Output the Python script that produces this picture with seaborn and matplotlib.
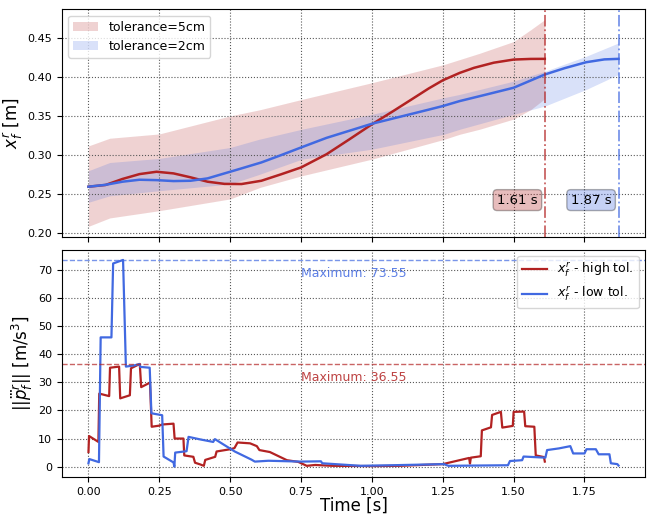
import numpy as np
import pandas as pd
import matplotlib
matplotlib.use("Agg")
import matplotlib.pyplot as plt
import seaborn as sns

# ---- position of the foot along x (top panel) ----
t_high = [0.0, 0.06, 0.12, 0.18, 0.24, 0.30, 0.36, 0.42, 0.48, 0.54, 0.61, 0.68,
          0.75, 0.84, 0.92, 1.0, 1.07, 1.14, 1.20, 1.25, 1.31, 1.36, 1.43, 1.50, 1.56, 1.61]
x_high = [0.2596, 0.2618, 0.2695, 0.2757, 0.2787, 0.2766, 0.2716, 0.2660, 0.2632, 0.2630,
          0.2672, 0.2755, 0.2842, 0.3011, 0.3200, 0.3393, 0.3550, 0.3711, 0.3850, 0.3955,
          0.4050, 0.4114, 0.4180, 0.4220, 0.4228, 0.4229]

t_low = [0.0, 0.06, 0.12, 0.18, 0.24, 0.30, 0.36, 0.42, 0.48, 0.54, 0.61, 0.68, 0.75,
         0.84, 0.92, 1.0, 1.10, 1.20, 1.25, 1.31, 1.40, 1.50, 1.61, 1.68, 1.756, 1.82, 1.87]
x_low = [0.2596, 0.2620, 0.2660, 0.2685, 0.2680, 0.2668, 0.2672, 0.2702, 0.2766, 0.2830,
         0.2906, 0.3000, 0.3097, 0.3220, 0.3310, 0.3400, 0.3490, 0.3580, 0.3626, 0.3690,
         0.3770, 0.3860, 0.4029, 0.4110, 0.4186, 0.4222, 0.4229]

# tolerance bands
tb_high = [0.0, 0.075, 0.25, 0.5, 0.606, 0.753, 1.0, 1.254, 1.31, 1.38, 1.5, 1.56, 1.61]
lo_high = [0.209, 0.2197, 0.229, 0.244, 0.2588, 0.2736, 0.2948, 0.320, 0.3266, 0.333, 0.346, 0.358, 0.372]
up_high = [0.3117, 0.3215, 0.327, 0.350, 0.358, 0.3711, 0.3924, 0.4156, 0.422, 0.430, 0.445, 0.460, 0.473]

tb_low = [0.0, 0.075, 0.25, 0.5, 0.6, 0.753, 1.0, 1.254, 1.31, 1.5, 1.61, 1.756, 1.87]
lo_low = [0.2397, 0.248, 0.2545, 0.263, 0.275, 0.2948, 0.3075, 0.3266, 0.333, 0.352, 0.3626, 0.3838, 0.403]
up_low = [0.280, 0.2905, 0.2957, 0.3097, 0.320, 0.333, 0.352, 0.3733, 0.3775, 0.3944, 0.407, 0.4262, 0.4432]

t_end_high = 1.61
t_end_low = 1.87

# ---- jerk norm (bottom panel) ----
tj_high = [0.000, 0.002, 0.035, 0.038, 0.073, 0.076, 0.108, 0.112, 0.146, 0.150, 0.181,
           0.186, 0.217, 0.223, 0.25, 0.26, 0.300, 0.304, 0.335, 0.338, 0.370, 0.376,
           0.394, 0.407, 0.412, 0.447, 0.452, 0.50, 0.515, 0.526, 0.57, 0.594, 0.603,
           0.64, 0.70, 0.74, 0.77, 0.80, 0.86, 1.0, 1.1, 1.25, 1.343, 1.346, 1.349,
           1.384, 1.388, 1.42, 1.424, 1.455, 1.46, 1.497, 1.50, 1.537, 1.541, 1.573,
           1.578, 1.607, 1.61]
j_high = [5.2, 10.9, 8.8, 26.0, 25.1, 35.2, 35.6, 24.3, 25.4, 35.0, 36.55,
          28.3, 29.9, 14.2, 14.6, 15.0, 15.3, 10.0, 10.0, 4.0, 3.5, 1.4,
          0.8, 0.3, 2.4, 3.5, 5.4, 6.2, 6.6, 8.6, 8.3, 7.3, 5.9,
          5.2, 2.3, 1.7, 0.3, 0.6, 0.3, 0.2, 0.3, 0.9, 3.1, 1.1, 3.2,
          3.7, 12.9, 14.0, 18.4, 19.5, 13.9, 14.5, 19.5, 19.6, 14.4, 14.2,
          4.0, 3.4, 1.8]

tj_low = [0.000, 0.003, 0.037, 0.043, 0.081, 0.087, 0.122, 0.132, 0.16, 0.18, 0.183,
          0.216, 0.222, 0.26, 0.265, 0.300, 0.303, 0.306, 0.346, 0.353, 0.394, 0.44,
          0.446, 0.516, 0.575, 0.587, 0.635, 0.75, 0.82, 0.825, 0.96, 1.07, 1.254,
          1.27, 1.48, 1.487, 1.53, 1.535, 1.612, 1.618, 1.66, 1.70, 1.71, 1.75, 1.757,
          1.79, 1.80, 1.838, 1.843, 1.866, 1.87]
j_low = [1.2, 2.7, 1.6, 46.0, 46.0, 72.3, 73.55, 35.6, 36.0, 36.5, 35.5,
         35.2, 19.0, 18.3, 3.6, 1.5, 0.0, 5.0, 5.5, 10.6, 9.7, 8.8,
         9.8, 5.4, 2.5, 1.8, 2.1, 1.8, 1.9, 1.2, 0.3, 0.5, 0.9,
         0.3, 0.5, 2.0, 2.3, 3.6, 3.2, 5.9, 6.5, 7.3, 4.7, 4.7, 6.2,
         6.2, 4.4, 4.4, 1.2, 0.9, 0.4]

max_high = 36.55
max_low = 73.55

c_high = "firebrick"
c_low = "royalblue"

fig, (ax1, ax2) = plt.subplots(2, 1, figsize=(6.51, 5.16), dpi=100, sharex=True)
fig.subplots_adjust(left=0.0952, right=0.9908, top=0.982, bottom=0.0756, hspace=0.057)

grid_kw = dict(color="0.35", linestyle=":", linewidth=0.8)

# top panel
ax1.fill_between(tb_high, lo_high, up_high, color=c_high, alpha=0.2, linewidth=0,
                 label="tolerance=5cm")
ax1.fill_between(tb_low, lo_low, up_low, color=c_low, alpha=0.2, linewidth=0,
                 label="tolerance=2cm")
df_hi = pd.DataFrame({"t": t_high, "x": x_high})
df_lo = pd.DataFrame({"t": t_low, "x": x_low})
sns.lineplot(data=df_hi, x="t", y="x", ax=ax1, color=c_high, linewidth=1.8,
             estimator=None, sort=False, legend=False)
sns.lineplot(data=df_lo, x="t", y="x", ax=ax1, color=c_low, linewidth=1.8,
             estimator=None, sort=False, legend=False)
ax1.axvline(t_end_high, color=c_high, linestyle="-.", alpha=0.7, linewidth=1.3)
ax1.axvline(t_end_low, color=c_low, linestyle="-.", alpha=0.7, linewidth=1.3)
box_kw = dict(boxstyle="round,pad=0.3")
ax1.text(t_end_high - 0.025, 0.2425, f"{t_end_high:.2f} s", ha="right", va="center",
         fontsize=9.5, bbox=dict(facecolor=c_high, alpha=0.3, **box_kw))
ax1.text(t_end_low - 0.025, 0.2425, f"{t_end_low:.2f} s", ha="right", va="center",
         fontsize=9.5, bbox=dict(facecolor=c_low, alpha=0.3, **box_kw))
ax1.set_ylabel(r"$x_f^r$ [m]", fontsize=12, labelpad=2)
ax1.set_xlabel("")
ax1.grid(True, **grid_kw)
ax1.legend(loc="upper left", fontsize=9)
ax1.tick_params(labelsize=8)

# bottom panel
df_jh = pd.DataFrame({"t": tj_high, "j": j_high})
df_jl = pd.DataFrame({"t": tj_low, "j": j_low})
sns.lineplot(data=df_jh, x="t", y="j", ax=ax2, color=c_high, linewidth=1.6,
             estimator=None, sort=False, label=r"$x_f^r$ - high tol.")
sns.lineplot(data=df_jl, x="t", y="j", ax=ax2, color=c_low, linewidth=1.6,
             estimator=None, sort=False, label=r"$x_f^r$ - low tol.")
ax2.axhline(max_low, color=c_low, linestyle="--", alpha=0.7, linewidth=1.0)
ax2.axhline(max_high, color=c_high, linestyle="--", alpha=0.7, linewidth=1.0)
ax2.text(0.75, max_low - 4.8, f"Maximum: {max_low:.2f}", color=c_low, alpha=0.85,
         ha="left", va="center", fontsize=9)
ax2.text(0.75, max_high - 4.8, f"Maximum: {max_high:.2f}", color=c_high, alpha=0.85,
         ha="left", va="center", fontsize=9)
ax2.set_ylabel(r"$||\dddot{p}_f^r||$ [m/s$^3$]", fontsize=12, labelpad=2)
ax2.set_xlabel("Time [s]", fontsize=12, labelpad=0)
ax2.grid(True, **grid_kw)
ax2.legend(loc="upper right", fontsize=9)
ax2.tick_params(labelsize=8)
ax2.set_xticks([0.0, 0.25, 0.5, 0.75, 1.0, 1.25, 1.5, 1.75])

fig.savefig("out.png", dpi=100)
